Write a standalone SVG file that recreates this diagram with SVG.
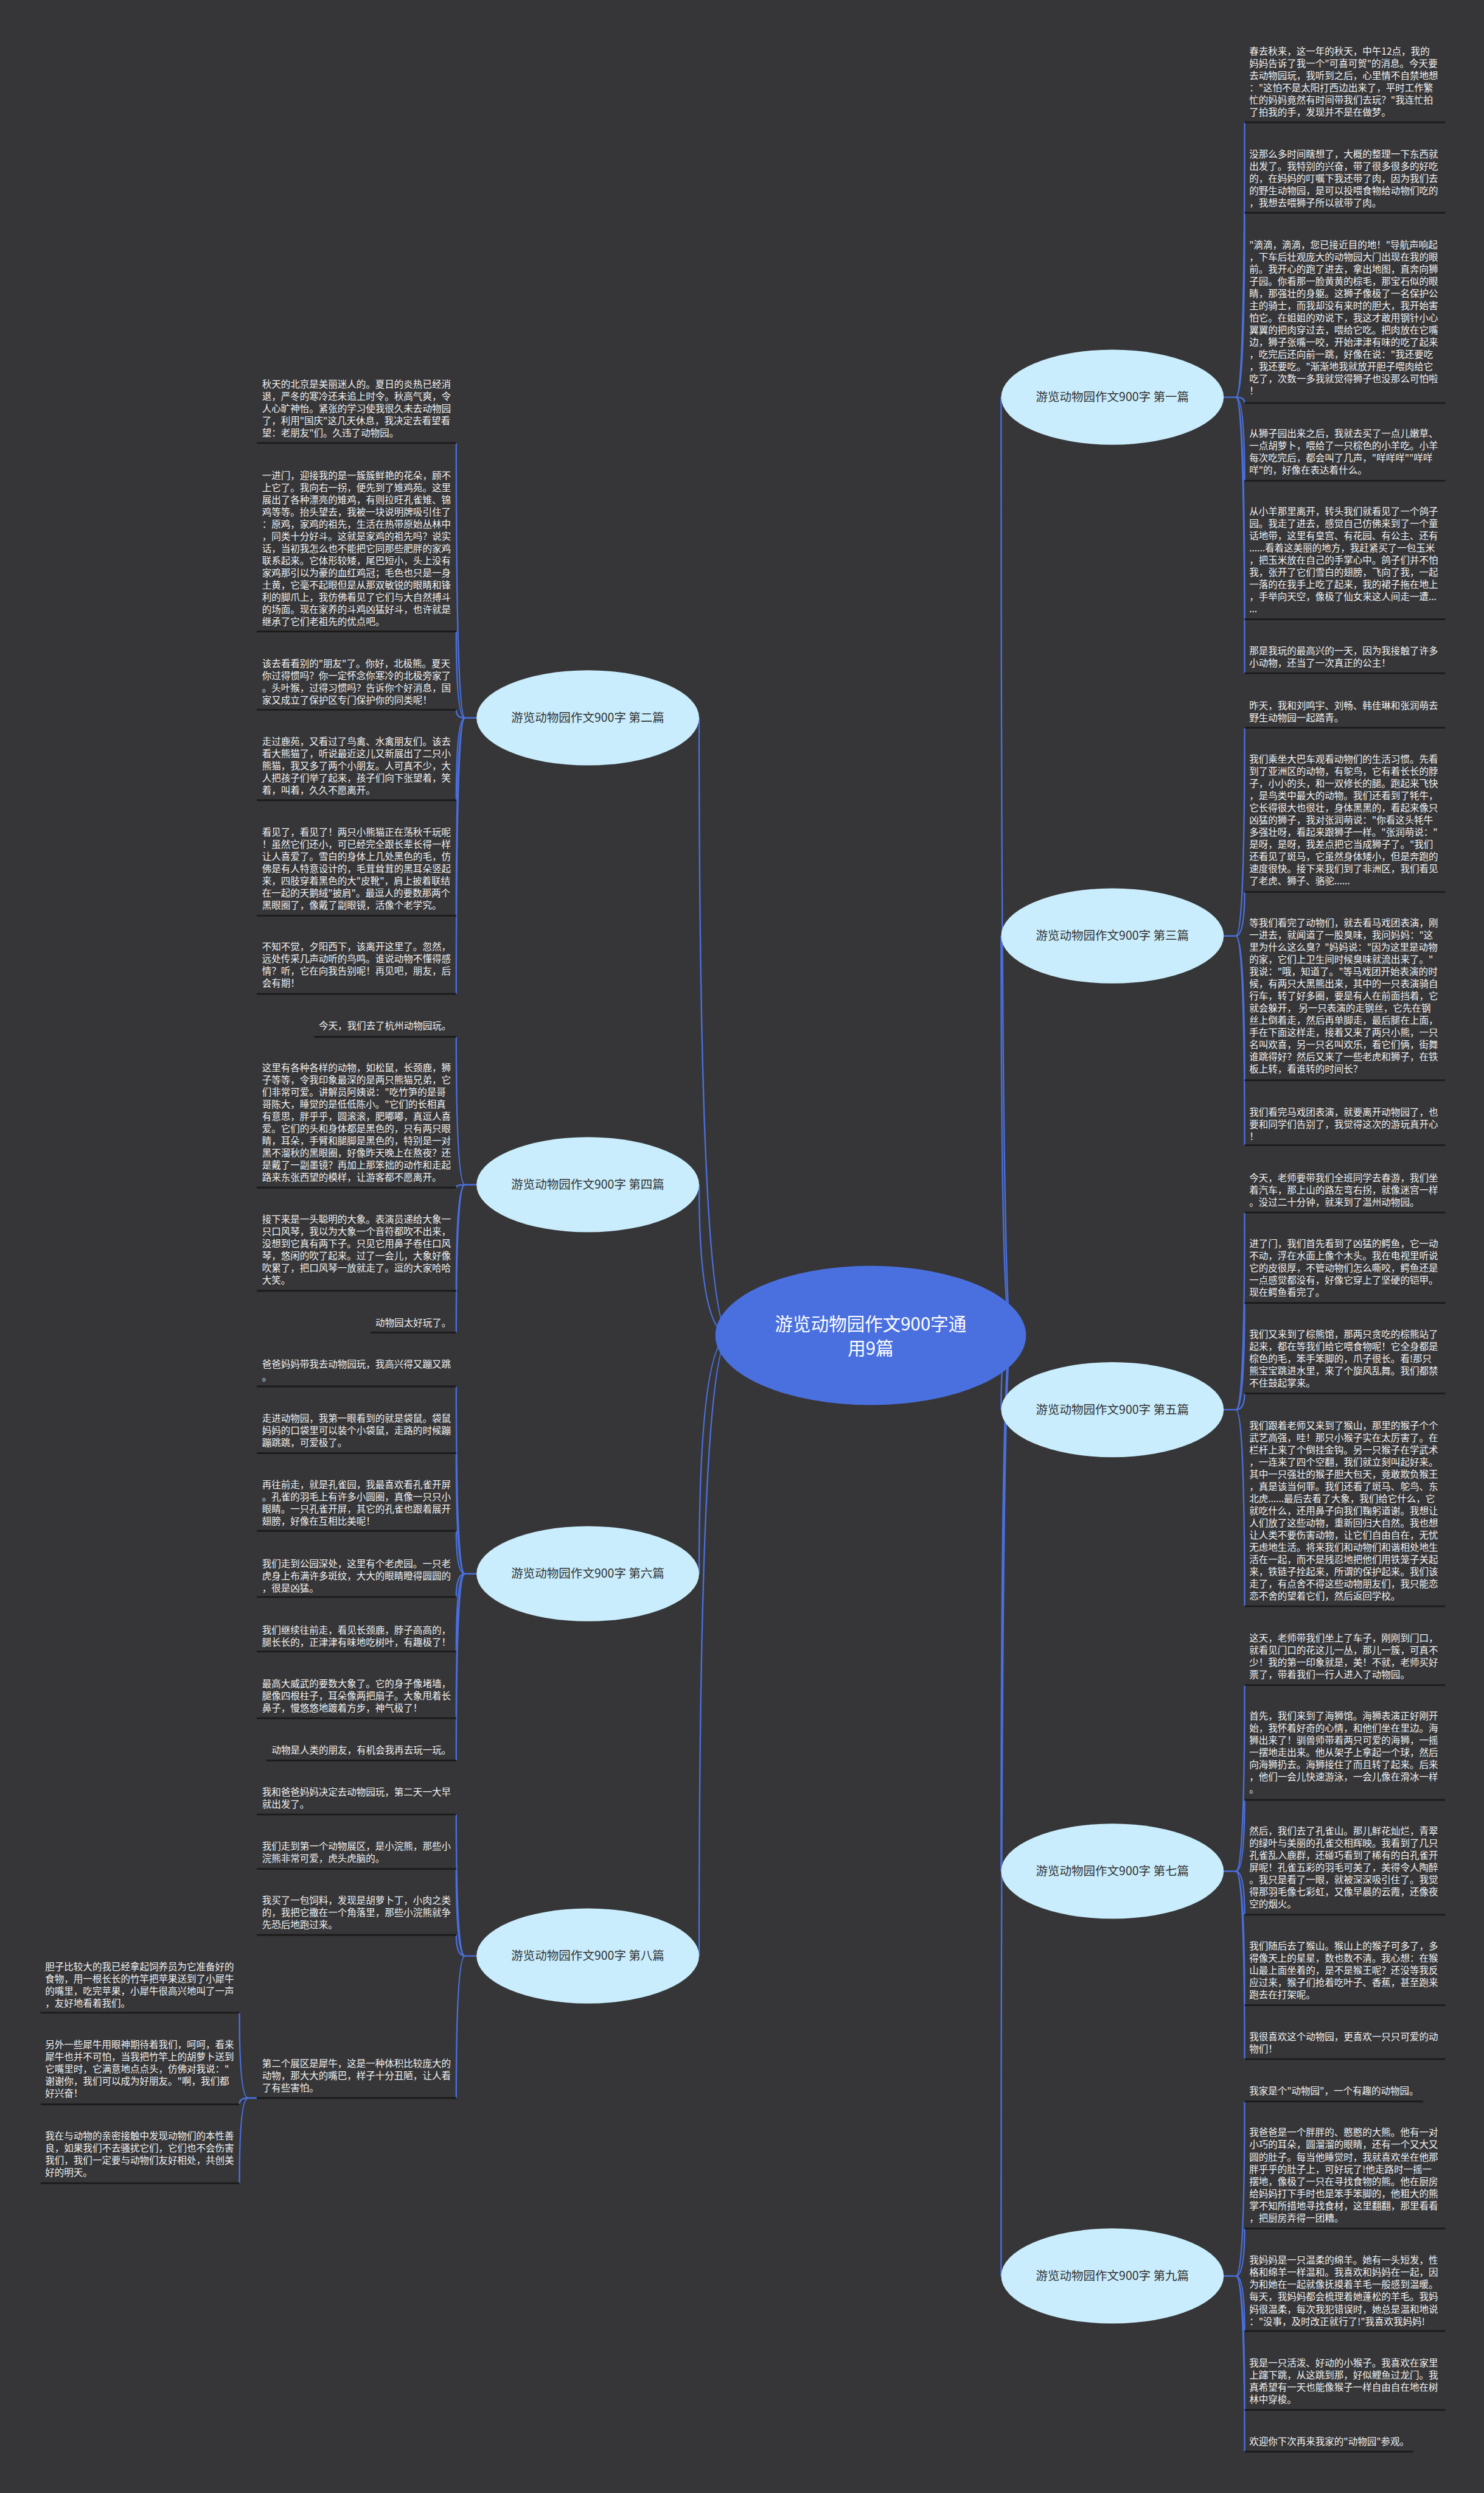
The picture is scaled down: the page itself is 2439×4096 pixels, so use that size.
<svg xmlns="http://www.w3.org/2000/svg" width="2439" height="4096" viewBox="0 0 2439 4096">
<style>
.t{font-family:'Noto Sans CJK SC','Noto Sans',sans-serif;font-size:16.3px;fill:#f2f2f2}
.ul{stroke:#1b1b1b;stroke-width:3}
.cn{fill:none;stroke:#4a6fdc;stroke-width:2.5}
.bn{fill:#c9edfc}
.bt{font-family:'Noto Sans CJK SC','Noto Sans',sans-serif;font-size:20.5px;fill:#333;text-anchor:middle}
.ct{font-family:'Noto Sans CJK SC','Noto Sans',sans-serif;font-size:31px;fill:#fff;text-anchor:middle}
</style>
<rect width="2439" height="4096" fill="#363638"/>
<g transform="scale(0.952734)">
<g id="connectors" class="cn">
<path d="M1745 2303Q1727 2303 1727 685M1745 2303Q1727 2303 1727 1614M1745 2303Q1727 2303 1727 2431M1745 2303Q1727 2303 1727 3227M1745 2303Q1727 2303 1727 3925"/>
<path d="M1260 2303Q1206 2303 1206 1238M1260 2303Q1206 2303 1206 2043M1260 2303Q1206 2303 1206 2714M1260 2303Q1206 2303 1206 3373"/>
<path d="M2111 685H2132Q2147 685 2147 211M2132 685Q2147 685 2147 367M2132 685Q2147 685 2147 695M2132 685Q2147 685 2147 829M2132 685Q2147 685 2147 1068M2132 685Q2147 685 2147 1161"/>
<path d="M2111 1614H2132Q2147 1614 2147 1255M2132 1614Q2147 1614 2147 1538M2132 1614Q2147 1614 2147 1863M2132 1614Q2147 1614 2147 1975"/>
<path d="M2111 2431H2132Q2147 2431 2147 2091M2132 2431Q2147 2431 2147 2247M2132 2431Q2147 2431 2147 2403M2132 2431Q2147 2431 2147 2770"/>
<path d="M2111 3227H2132Q2147 3227 2147 2906M2132 3227Q2147 3227 2147 3104M2132 3227Q2147 3227 2147 3302M2132 3227Q2147 3227 2147 3458M2132 3227Q2147 3227 2147 3551"/>
<path d="M2111 3925H2132Q2147 3925 2147 3624M2132 3925Q2147 3925 2147 3843M2132 3925Q2147 3925 2147 4020M2132 3925Q2147 3925 2147 4156M2132 3925Q2147 3925 2147 4228"/>
<path d="M822 1238H802Q787 1238 787 764M802 1238Q787 1238 787 1089M802 1238Q787 1238 787 1224M802 1238Q787 1238 787 1380M802 1238Q787 1238 787 1579M802 1238Q787 1238 787 1714"/>
<path d="M822 2043H802Q787 2043 787 1788M802 2043Q787 2043 787 2048M802 2043Q787 2043 787 2226M802 2043Q787 2043 787 2298"/>
<path d="M822 2714H802Q787 2714 787 2391M802 2714Q787 2714 787 2506M802 2714Q787 2714 787 2640M802 2714Q787 2714 787 2754M802 2714Q787 2714 787 2848M802 2714Q787 2714 787 2963M802 2714Q787 2714 787 3036"/>
<path d="M822 3373H802Q787 3373 787 3129M802 3373Q787 3373 787 3223M802 3373Q787 3373 787 3337M802 3373Q787 3373 787 3618"/>
<path d="M443 3618H428Q413 3618 413 3471M428 3618Q413 3618 413 3629M428 3618Q413 3618 413 3765"/>
</g>
<g id="center"><ellipse cx="1502" cy="2303" rx="268" ry="120" fill="#4a70e0"/><text class="ct" x="1502" y="2294">游览动物园作文900字通</text><text class="ct" x="1502" y="2336">用9篇</text></g>
<g id="n1"><ellipse class="bn" cx="1919" cy="685" rx="192" ry="82"/><text class="bt" x="1919" y="692">游览动物园作文900字 第一篇</text></g>
<g id="n3"><ellipse class="bn" cx="1919" cy="1614" rx="192" ry="82"/><text class="bt" x="1919" y="1621">游览动物园作文900字 第三篇</text></g>
<g id="n5"><ellipse class="bn" cx="1919" cy="2431" rx="192" ry="82"/><text class="bt" x="1919" y="2438">游览动物园作文900字 第五篇</text></g>
<g id="n7"><ellipse class="bn" cx="1919" cy="3227" rx="192" ry="82"/><text class="bt" x="1919" y="3234">游览动物园作文900字 第七篇</text></g>
<g id="n9"><ellipse class="bn" cx="1919" cy="3925" rx="192" ry="82"/><text class="bt" x="1919" y="3932">游览动物园作文900字 第九篇</text></g>
<g id="n2"><ellipse class="bn" cx="1014" cy="1238" rx="192" ry="82"/><text class="bt" x="1014" y="1245">游览动物园作文900字 第二篇</text></g>
<g id="n4"><ellipse class="bn" cx="1014" cy="2043" rx="192" ry="82"/><text class="bt" x="1014" y="2050">游览动物园作文900字 第四篇</text></g>
<g id="n6"><ellipse class="bn" cx="1014" cy="2714" rx="192" ry="82"/><text class="bt" x="1014" y="2721">游览动物园作文900字 第六篇</text></g>
<g id="n8"><ellipse class="bn" cx="1014" cy="3373" rx="192" ry="82"/><text class="bt" x="1014" y="3380">游览动物园作文900字 第八篇</text></g>

<g id="r1"><text class="t" x="2155" y="94.6"><tspan x="2155">春去秋来，这一年的秋天，中午12点，我的</tspan><tspan x="2155" dy="21">妈妈告诉了我一个"可喜可贺"的消息。今天要</tspan><tspan x="2155" dy="21">去动物园玩，我听到之后，心里情不自禁地想</tspan><tspan x="2155" dy="21">："这怕不是太阳打西边出来了，平时工作繁</tspan><tspan x="2155" dy="21">忙的妈妈竟然有时间带我们去玩？"我连忙拍</tspan><tspan x="2155" dy="21">了拍我的手，发现并不是在做梦。</tspan></text><line class="ul" x1="2147" y1="211" x2="2493" y2="211"/></g>
<g id="r2"><text class="t" x="2155" y="272.1"><tspan x="2155">没那么多时间瞎想了，大概的整理一下东西就</tspan><tspan x="2155" dy="21">出发了。我特别的兴奋，带了很多很多的好吃</tspan><tspan x="2155" dy="21">的，在妈妈的叮嘱下我还带了肉，因为我们去</tspan><tspan x="2155" dy="21">的野生动物园，是可以投喂食物给动物们吃的</tspan><tspan x="2155" dy="21">，我想去喂狮子所以就带了肉。</tspan></text><line class="ul" x1="2147" y1="367" x2="2493" y2="367"/></g>
<g id="r3"><text class="t" x="2155" y="428.4"><tspan x="2155">"滴滴，滴滴，您已接近目的地！"导航声响起</tspan><tspan x="2155" dy="21">，下车后壮观庞大的动物园大门出现在我的眼</tspan><tspan x="2155" dy="21">前。我开心的跑了进去，拿出地图，直奔向狮</tspan><tspan x="2155" dy="21">子园。你看那一脸黄黄的棕毛，那宝石似的眼</tspan><tspan x="2155" dy="21">睛，那强壮的身躯。这狮子像极了一名保护公</tspan><tspan x="2155" dy="21">主的骑士，而我却没有来时的胆大，我开始害</tspan><tspan x="2155" dy="21">怕它。在姐姐的劝说下，我这才敢用钢针小心</tspan><tspan x="2155" dy="21">翼翼的把肉穿过去，喂给它吃。把肉放在它嘴</tspan><tspan x="2155" dy="21">边，狮子张嘴一咬，开始津津有味的吃了起来</tspan><tspan x="2155" dy="21">，吃完后还向前一跳，好像在说："我还要吃</tspan><tspan x="2155" dy="21">，我还要吃。"渐渐地我就放开胆子喂肉给它</tspan><tspan x="2155" dy="21">吃了，次数一多我就觉得狮子也没那么可怕啦</tspan><tspan x="2155" dy="21">！</tspan></text><line class="ul" x1="2147" y1="695" x2="2493" y2="695"/></g>
<g id="r4"><text class="t" x="2155" y="753.1"><tspan x="2155">从狮子园出来之后，我就去买了一点儿嫩草、</tspan><tspan x="2155" dy="21">一点胡萝卜，喂给了一只棕色的小羊吃。小羊</tspan><tspan x="2155" dy="21">每次吃完后，都会叫了几声，"咩咩咩""咩咩</tspan><tspan x="2155" dy="21">咩"的，好像在表达着什么。</tspan></text><line class="ul" x1="2147" y1="829" x2="2493" y2="829"/></g>
<g id="r5"><text class="t" x="2155" y="887.8"><tspan x="2155">从小羊那里离开，转头我们就看见了一个鸽子</tspan><tspan x="2155" dy="21">园。我走了进去，感觉自己仿佛来到了一个童</tspan><tspan x="2155" dy="21">话地带，这里有皇宫、有花园、有公主、还有</tspan><tspan x="2155" dy="21">......看着这美丽的地方，我赶紧买了一包玉米</tspan><tspan x="2155" dy="21">，把玉米放在自己的手掌心中。鸽子们并不怕</tspan><tspan x="2155" dy="21">我，张开了它们雪白的翅膀，飞向了我，一起</tspan><tspan x="2155" dy="21">一落的在我手上吃了起来，我的裙子拖在地上</tspan><tspan x="2155" dy="21">，手举向天空，像极了仙女来这人间走一遭...</tspan><tspan x="2155" dy="21">...</tspan></text><line class="ul" x1="2147" y1="1068" x2="2493" y2="1068"/></g>
<g id="r6"><text class="t" x="2155" y="1128.7"><tspan x="2155">那是我玩的最高兴的一天，因为我接触了许多</tspan><tspan x="2155" dy="21">小动物，还当了一次真正的公主！</tspan></text><line class="ul" x1="2147" y1="1161" x2="2493" y2="1161"/></g>
<g id="r7"><text class="t" x="2155" y="1222.5"><tspan x="2155">昨天，我和刘鸣宇、刘畅、韩佳琳和张润萌去</tspan><tspan x="2155" dy="21">野生动物园一起踏青。</tspan></text><line class="ul" x1="2147" y1="1255" x2="2493" y2="1255"/></g>
<g id="r8"><text class="t" x="2155" y="1315.6"><tspan x="2155">我们乘坐大巴车观看动物们的生活习惯。先看</tspan><tspan x="2155" dy="21">到了亚洲区的动物，有鸵鸟，它有着长长的脖</tspan><tspan x="2155" dy="21">子，小小的头，和一双修长的腿。跑起来飞快</tspan><tspan x="2155" dy="21">，是鸟类中最大的动物。我们还看到了牦牛，</tspan><tspan x="2155" dy="21">它长得很大也很壮，身体黑黑的，看起来像只</tspan><tspan x="2155" dy="21">凶猛的狮子，我对张润萌说："你看这头牦牛</tspan><tspan x="2155" dy="21">多强壮呀，看起来跟狮子一样。"张润萌说："</tspan><tspan x="2155" dy="21">是呀，是呀，我差点把它当成狮子了。"我们</tspan><tspan x="2155" dy="21">还看见了斑马，它虽然身体矮小，但是奔跑的</tspan><tspan x="2155" dy="21">速度很快。接下来我们到了非洲区，我们看见</tspan><tspan x="2155" dy="21">了老虎、狮子、骆驼......</tspan></text><line class="ul" x1="2147" y1="1538" x2="2493" y2="1538"/></g>
<g id="r9"><text class="t" x="2155" y="1597.4"><tspan x="2155">等我们看完了动物们，就去看马戏团表演，刚</tspan><tspan x="2155" dy="21">一进去，就闻道了一股臭味，我问妈妈："这</tspan><tspan x="2155" dy="21">里为什么这么臭？"妈妈说："因为这里是动物</tspan><tspan x="2155" dy="21">的家，它们上卫生间时候臭味就流出来了。"</tspan><tspan x="2155" dy="21">我说："哦，知道了。"等马戏团开始表演的时</tspan><tspan x="2155" dy="21">候，有两只大黑熊出来，其中的一只表演骑自</tspan><tspan x="2155" dy="21">行车，转了好多圈，要是有人在前面挡着，它</tspan><tspan x="2155" dy="21">就会躲开， 另一只表演的走钢丝，它先在钢</tspan><tspan x="2155" dy="21">丝上倒着走，然后再单脚走，最后腿在上面，</tspan><tspan x="2155" dy="21">手在下面这样走，接着又来了两只小熊，一只</tspan><tspan x="2155" dy="21">名叫欢喜，另一只名叫欢乐，看它们俩，街舞</tspan><tspan x="2155" dy="21">谁跳得好？然后又来了一些老虎和狮子，在铁</tspan><tspan x="2155" dy="21">板上转，看谁转的时间长？</tspan></text><line class="ul" x1="2147" y1="1863" x2="2493" y2="1863"/></g>
<g id="r10"><text class="t" x="2155" y="1924"><tspan x="2155">我们看完马戏团表演，就要离开动物园了，也</tspan><tspan x="2155" dy="21">要和同学们告别了，我觉得这次的游玩真开心</tspan><tspan x="2155" dy="21">！</tspan></text><line class="ul" x1="2147" y1="1975" x2="2493" y2="1975"/></g>
<g id="r11"><text class="t" x="2155" y="2036.8"><tspan x="2155">今天，老师要带我们全班同学去春游，我们坐</tspan><tspan x="2155" dy="21">着汽车，那上山的路左弯右拐，就像迷宫一样</tspan><tspan x="2155" dy="21">。没过二十分钟，就来到了温州动物园。</tspan></text><line class="ul" x1="2147" y1="2091" x2="2493" y2="2091"/></g>
<g id="r12"><text class="t" x="2155" y="2151.1"><tspan x="2155">进了门，我们首先看到了凶猛的鳄鱼，它一动</tspan><tspan x="2155" dy="21">不动，浮在水面上像个木头。我在电视里听说</tspan><tspan x="2155" dy="21">它的皮很厚，不管动物们怎么嘶咬，鳄鱼还是</tspan><tspan x="2155" dy="21">一点感觉都没有，好像它穿上了坚硬的铠甲。</tspan><tspan x="2155" dy="21">现在鳄鱼看完了。</tspan></text><line class="ul" x1="2147" y1="2247" x2="2493" y2="2247"/></g>
<g id="r13"><text class="t" x="2155" y="2307"><tspan x="2155">我们又来到了棕熊馆，那两只贪吃的棕熊站了</tspan><tspan x="2155" dy="21">起来，都在等我们给它喂食物呢！它全身都是</tspan><tspan x="2155" dy="21">棕色的毛，笨手笨脚的，爪子很长。看!那只</tspan><tspan x="2155" dy="21">熊宝宝跳进水里，来了个旋风乱舞。我们都禁</tspan><tspan x="2155" dy="21">不住鼓起掌来。</tspan></text><line class="ul" x1="2147" y1="2403" x2="2493" y2="2403"/></g>
<g id="r14"><text class="t" x="2155" y="2464.2"><tspan x="2155">我们跟着老师又来到了猴山，那里的猴子个个</tspan><tspan x="2155" dy="21">武艺高强，哇！那只小猴子实在太厉害了。在</tspan><tspan x="2155" dy="21">栏杆上来了个倒挂金钩。另一只猴子在学武术</tspan><tspan x="2155" dy="21">，一连来了四个空翻，我们就立刻叫起好来。</tspan><tspan x="2155" dy="21">其中一只强壮的猴子胆大包天，竟敢欺负猴王</tspan><tspan x="2155" dy="21">，真是该当何罪。我们还看了斑马、鸵鸟、东</tspan><tspan x="2155" dy="21">北虎......最后去看了大象，我们给它什么，它</tspan><tspan x="2155" dy="21">就吃什么，还用鼻子向我们鞠躬道谢。我想让</tspan><tspan x="2155" dy="21">人们放了这些动物，重新回归大自然。我也想</tspan><tspan x="2155" dy="21">让人类不要伤害动物，让它们自由自在，无忧</tspan><tspan x="2155" dy="21">无虑地生活。将来我们和动物们和谐相处地生</tspan><tspan x="2155" dy="21">活在一起，而不是残忍地把他们用铁笼子关起</tspan><tspan x="2155" dy="21">来，铁链子拴起来，所谓的保护起来。我们该</tspan><tspan x="2155" dy="21">走了，有点舍不得这些动物朋友们，我只能恋</tspan><tspan x="2155" dy="21">恋不舍的望着它们，然后返回学校。</tspan></text><line class="ul" x1="2147" y1="2770" x2="2493" y2="2770"/></g>
<g id="r15"><text class="t" x="2155" y="2830.9"><tspan x="2155">这天，老师带我们坐上了车子，刚刚到门口，</tspan><tspan x="2155" dy="21">就看见门口的花这儿一丛，那儿一簇，可真不</tspan><tspan x="2155" dy="21">少！我的第一印象就是，美！不就，老师买好</tspan><tspan x="2155" dy="21">票了，带着我们一行人进入了动物园。</tspan></text><line class="ul" x1="2147" y1="2906" x2="2493" y2="2906"/></g>
<g id="r16"><text class="t" x="2155" y="2965.6"><tspan x="2155">首先，我们来到了海狮馆。海狮表演正好刚开</tspan><tspan x="2155" dy="21">始，我怀着好奇的心情，和他们坐在里边。海</tspan><tspan x="2155" dy="21">狮出来了！驯兽师带着两只可爱的海狮，一摇</tspan><tspan x="2155" dy="21">一摆地走出来。他从架子上拿起一个球，然后</tspan><tspan x="2155" dy="21">向海狮扔去。海狮接住了而且转了起来。后来</tspan><tspan x="2155" dy="21">，他们一会儿快速游泳，一会儿像在滑冰一样</tspan><tspan x="2155" dy="21">。</tspan></text><line class="ul" x1="2147" y1="3104" x2="2493" y2="3104"/></g>
<g id="r17"><text class="t" x="2155" y="3163.6"><tspan x="2155">然后，我们去了孔雀山。那儿鲜花灿烂，青翠</tspan><tspan x="2155" dy="21">的绿叶与美丽的孔雀交相辉映。我看到了几只</tspan><tspan x="2155" dy="21">孔雀乱入鹿群，还碰巧看到了稀有的白孔雀开</tspan><tspan x="2155" dy="21">屏呢！孔雀五彩的羽毛可美了，美得令人陶醉</tspan><tspan x="2155" dy="21">。我只是看了一眼，就被深深吸引住了。我觉</tspan><tspan x="2155" dy="21">得那羽毛像七彩虹，又像早晨的云霞，还像夜</tspan><tspan x="2155" dy="21">空的烟火。</tspan></text><line class="ul" x1="2147" y1="3302" x2="2493" y2="3302"/></g>
<g id="r18"><text class="t" x="2155" y="3362.1"><tspan x="2155">我们随后去了猴山。猴山上的猴子可多了，多</tspan><tspan x="2155" dy="21">得像天上的星星，数也数不清。我心想：在猴</tspan><tspan x="2155" dy="21">山最上面坐着的，是不是猴王呢？还没等我反</tspan><tspan x="2155" dy="21">应过来，猴子们抢着吃叶子、香蕉，甚至跑来</tspan><tspan x="2155" dy="21">跑去在打架呢。</tspan></text><line class="ul" x1="2147" y1="3458" x2="2493" y2="3458"/></g>
<g id="r19"><text class="t" x="2155" y="3518"><tspan x="2155">我很喜欢这个动物园，更喜欢一只只可爱的动</tspan><tspan x="2155" dy="21">物们！</tspan></text><line class="ul" x1="2147" y1="3551" x2="2493" y2="3551"/></g>
<g id="r20"><text class="t" x="2155" y="3612">我家是个"动物园"，一个有趣的动物园。</text><line class="ul" x1="2147" y1="3624" x2="2455" y2="3624"/></g>
<g id="r21"><text class="t" x="2155" y="3683.6"><tspan x="2155">我爸爸是一个胖胖的、憨憨的大熊。他有一对</tspan><tspan x="2155" dy="21">小巧的耳朵，圆溜溜的眼睛，还有一个又大又</tspan><tspan x="2155" dy="21">圆的肚子。每当他睡觉时，我就喜欢坐在他那</tspan><tspan x="2155" dy="21">胖乎乎的肚子上，可好玩了!他走路时一摇一</tspan><tspan x="2155" dy="21">摆地，像极了一只在寻找食物的熊。他在厨房</tspan><tspan x="2155" dy="21">给妈妈打下手时也是笨手笨脚的，他粗大的熊</tspan><tspan x="2155" dy="21">掌不知所措地寻找食材，这里翻翻，那里看看</tspan><tspan x="2155" dy="21">，把厨房弄得一团糟。</tspan></text><line class="ul" x1="2147" y1="3843" x2="2493" y2="3843"/></g>
<g id="r22"><text class="t" x="2155" y="3904"><tspan x="2155">我妈妈是一只温柔的绵羊。她有一头短发，性</tspan><tspan x="2155" dy="21">格和绵羊一样温和。我喜欢和妈妈在一起，因</tspan><tspan x="2155" dy="21">为和她在一起就像抚摸着羊毛一般感到温暖。</tspan><tspan x="2155" dy="21">每天，我妈妈都会梳理着她蓬松的羊毛。我妈</tspan><tspan x="2155" dy="21">妈很温柔，每次我犯错误时，她总是温和地说</tspan><tspan x="2155" dy="21">："没事，及时改正就行了!"我喜欢我妈妈!</tspan></text><line class="ul" x1="2147" y1="4020" x2="2493" y2="4020"/></g>
<g id="r23"><text class="t" x="2155" y="4080.7"><tspan x="2155">我是一只活泼、好动的小猴子。我喜欢在家里</tspan><tspan x="2155" dy="21">上蹿下跳，从这跳到那，好似鲤鱼过龙门。我</tspan><tspan x="2155" dy="21">真希望有一天也能像猴子一样自由自在地在树</tspan><tspan x="2155" dy="21">林中穿梭。</tspan></text><line class="ul" x1="2147" y1="4156" x2="2493" y2="4156"/></g>
<g id="r24"><text class="t" x="2155" y="4216.3">欢迎你下次再来我家的"动物园"参观。</text><line class="ul" x1="2147" y1="4228" x2="2438" y2="4228"/></g>

<g id="l1"><text class="t" x="452" y="668.4"><tspan x="452">秋天的北京是美丽迷人的。夏日的炎热已经消</tspan><tspan x="452" dy="21">退，严冬的寒冷还未追上时令。秋高气爽，令</tspan><tspan x="452" dy="21">人心旷神怡。紧张的学习使我很久未去动物园</tspan><tspan x="452" dy="21">了，利用"国庆"这几天休息，我决定去看望看</tspan><tspan x="452" dy="21">望：老朋友"们。久违了动物园。</tspan></text><line class="ul" x1="443" y1="764" x2="787" y2="764"/></g>
<g id="l2"><text class="t" x="452" y="825.6"><tspan x="452">一进门，迎接我的是一簇簇鲜艳的花朵，顾不</tspan><tspan x="452" dy="21">上它了。我向右一拐，便先到了雉鸡苑。这里</tspan><tspan x="452" dy="21">展出了各种漂亮的雉鸡，有则拉旺孔雀雉、锦</tspan><tspan x="452" dy="21">鸡等等。抬头望去，我被一块说明牌吸引住了</tspan><tspan x="452" dy="21">：原鸡，家鸡的祖先，生活在热带原始丛林中</tspan><tspan x="452" dy="21">，同类十分好斗。这就是家鸡的祖先吗？说实</tspan><tspan x="452" dy="21">话，当初我怎么也不能把它同那些肥胖的家鸡</tspan><tspan x="452" dy="21">联系起来。它体形较矮，尾巴短小，头上没有</tspan><tspan x="452" dy="21">家鸡那引以为豪的血红鸡冠；毛色也只是一身</tspan><tspan x="452" dy="21">土黄，它毫不起眼但是从那双敏锐的眼睛和锋</tspan><tspan x="452" dy="21">利的脚爪上，我仿佛看见了它们与大自然搏斗</tspan><tspan x="452" dy="21">的场面。现在家养的斗鸡凶猛好斗，也许就是</tspan><tspan x="452" dy="21">继承了它们老祖先的优点吧。</tspan></text><line class="ul" x1="443" y1="1089" x2="787" y2="1089"/></g>
<g id="l3"><text class="t" x="452" y="1150.1"><tspan x="452">该去看看别的"朋友"了。你好，北极熊。夏天</tspan><tspan x="452" dy="21">你过得惯吗？你一定怀念你寒冷的北极旁家了</tspan><tspan x="452" dy="21">。头叶猴，过得习惯吗？告诉你个好消息，国</tspan><tspan x="452" dy="21">家又成立了保护区专门保护你的同类呢！</tspan></text><line class="ul" x1="443" y1="1224" x2="787" y2="1224"/></g>
<g id="l4"><text class="t" x="452" y="1285"><tspan x="452">走过鹿苑，又看过了鸟禽、水禽朋友们。该去</tspan><tspan x="452" dy="21">看大熊猫了，听说最近这儿又新展出了二只小</tspan><tspan x="452" dy="21">熊猫，我又多了两个小朋友。人可真不少，大</tspan><tspan x="452" dy="21">人把孩子们举了起来，孩子们向下张望着，笑</tspan><tspan x="452" dy="21">着，叫着，久久不愿离开。</tspan></text><line class="ul" x1="443" y1="1380" x2="787" y2="1380"/></g>
<g id="l5"><text class="t" x="452" y="1441.3"><tspan x="452">看见了，看见了！两只小熊猫正在荡秋千玩呢</tspan><tspan x="452" dy="21">！虽然它们还小，可已经完全跟长辈长得一样</tspan><tspan x="452" dy="21">让人喜爱了。雪白的身体上几处黑色的毛，仿</tspan><tspan x="452" dy="21">佛是有人特意设计的，毛茸耸茸的黑耳朵竖起</tspan><tspan x="452" dy="21">来，四肢穿着黑色的大"皮靴"，肩上披着联结</tspan><tspan x="452" dy="21">在一起的天鹅绒"披肩"。最逗人的要数那两个</tspan><tspan x="452" dy="21">黑眼圈了，像戴了副眼镜，活像个老学究。</tspan></text><line class="ul" x1="443" y1="1579" x2="787" y2="1579"/></g>
<g id="l6"><text class="t" x="452" y="1638.4"><tspan x="452">不知不觉，夕阳西下，该离开这里了。忽然，</tspan><tspan x="452" dy="21">远处传采几声动听的鸟鸣。谁说动物不懂得感</tspan><tspan x="452" dy="21">情？听，它在向我告别呢！再见吧，朋友，后</tspan><tspan x="452" dy="21">会有期！</tspan></text><line class="ul" x1="443" y1="1714" x2="787" y2="1714"/></g>
<g id="l7"><text class="t" x="778" y="1774.8" text-anchor="end">今天，我们去了杭州动物园玩。</text><line class="ul" x1="542" y1="1788" x2="787" y2="1788"/></g>
<g id="l8"><text class="t" x="452" y="1847.4"><tspan x="452">这里有各种各样的动物，如松鼠，长颈鹿，狮</tspan><tspan x="452" dy="21">子等等，令我印象最深的是两只熊猫兄弟，它</tspan><tspan x="452" dy="21">们非常可爱。讲解员阿姨说："吃竹笋的是哥</tspan><tspan x="452" dy="21">哥陈大，睡觉的是低低陈小。"它们的长相真</tspan><tspan x="452" dy="21">有意思，胖乎乎，圆滚滚，肥嘟嘟，真逗人喜</tspan><tspan x="452" dy="21">爱。它们的头和身体都是黑色的，只有两只眼</tspan><tspan x="452" dy="21">睛，耳朵，手臂和腿脚是黑色的，特别是一对</tspan><tspan x="452" dy="21">黑不溜秋的黑眼圈，好像昨天晚上在熬夜？还</tspan><tspan x="452" dy="21">是戴了一副墨镜？再加上那笨拙的动作和走起</tspan><tspan x="452" dy="21">路来东张西望的模样，让游客都不愿离开。</tspan></text><line class="ul" x1="443" y1="2048" x2="787" y2="2048"/></g>
<g id="l9"><text class="t" x="452" y="2108.9"><tspan x="452">接下来是一头聪明的大象。表演员递给大象一</tspan><tspan x="452" dy="21">只口风琴，我以为大象一个音符都吹不出来，</tspan><tspan x="452" dy="21">没想到它真有两下子。只见它用鼻子卷住口风</tspan><tspan x="452" dy="21">琴，悠闲的吹了起来。过了一会儿，大象好像</tspan><tspan x="452" dy="21">吹累了，把口风琴一放就走了。逗的大家哈哈</tspan><tspan x="452" dy="21">大笑。</tspan></text><line class="ul" x1="443" y1="2226" x2="787" y2="2226"/></g>
<g id="l10"><text class="t" x="778" y="2287.6" text-anchor="end">动物园太好玩了。</text><line class="ul" x1="639" y1="2298" x2="787" y2="2298"/></g>
<g id="l11"><text class="t" x="452" y="2359"><tspan x="452">爸爸妈妈带我去动物园玩，我高兴得又蹦又跳</tspan><tspan x="452" dy="21">。</tspan></text><line class="ul" x1="443" y1="2391" x2="787" y2="2391"/></g>
<g id="l12"><text class="t" x="452" y="2452.1"><tspan x="452">走进动物园，我第一眼看到的就是袋鼠。袋鼠</tspan><tspan x="452" dy="21">妈妈的口袋里可以装个小袋鼠，走路的时候蹦</tspan><tspan x="452" dy="21">蹦跳跳，可爱极了。</tspan></text><line class="ul" x1="443" y1="2506" x2="787" y2="2506"/></g>
<g id="l13"><text class="t" x="452" y="2566.6"><tspan x="452">再往前走，就是孔雀园，我最喜欢看孔雀开屏</tspan><tspan x="452" dy="21">。孔雀的羽毛上有许多小圆圈，真像一只只小</tspan><tspan x="452" dy="21">眼睛。一只孔雀开屏，其它的孔雀也跟着展开</tspan><tspan x="452" dy="21">翅膀，好像在互相比美呢！</tspan></text><line class="ul" x1="443" y1="2640" x2="787" y2="2640"/></g>
<g id="l14"><text class="t" x="452" y="2702.5"><tspan x="452">我们走到公园深处，这里有个老虎园。一只老</tspan><tspan x="452" dy="21">虎身上布满许多斑纹，大大的眼睛瞪得圆圆的</tspan><tspan x="452" dy="21">，很是凶猛。</tspan></text><line class="ul" x1="443" y1="2754" x2="787" y2="2754"/></g>
<g id="l15"><text class="t" x="452" y="2816.8"><tspan x="452">我们继续往前走，看见长颈鹿，脖子高高的，</tspan><tspan x="452" dy="21">腿长长的，正津津有味地吃树叶，有趣极了！</tspan></text><line class="ul" x1="443" y1="2848" x2="787" y2="2848"/></g>
<g id="l16"><text class="t" x="452" y="2909.5"><tspan x="452">最高大威武的要数大象了。它的身子像堵墙，</tspan><tspan x="452" dy="21">腿像四根柱子，耳朵像两把扇子。大象甩着长</tspan><tspan x="452" dy="21">鼻子，慢悠悠地踱着方步，神气极了！</tspan></text><line class="ul" x1="443" y1="2963" x2="787" y2="2963"/></g>
<g id="l17"><text class="t" x="778" y="3023.8" text-anchor="end">动物是人类的朋友，有机会我再去玩一玩。</text><line class="ul" x1="459" y1="3036" x2="787" y2="3036"/></g>
<g id="l18"><text class="t" x="452" y="3096"><tspan x="452">我和爸爸妈妈决定去动物园玩，第二天一大早</tspan><tspan x="452" dy="21">就出发了。</tspan></text><line class="ul" x1="443" y1="3129" x2="787" y2="3129"/></g>
<g id="l19"><text class="t" x="452" y="3190"><tspan x="452">我们走到第一个动物展区，是小浣熊，那些小</tspan><tspan x="452" dy="21">浣熊非常可爱，虎头虎脑的。</tspan></text><line class="ul" x1="443" y1="3223" x2="787" y2="3223"/></g>
<g id="l20"><text class="t" x="452" y="3283.5"><tspan x="452">我买了一包饲料，发现是胡萝卜丁，小肉之类</tspan><tspan x="452" dy="21">的，我把它撒在一个角落里，那些小浣熊就争</tspan><tspan x="452" dy="21">先恐后地跑过来。</tspan></text><line class="ul" x1="443" y1="3337" x2="787" y2="3337"/></g>
<g id="l21"><text class="t" x="452" y="3564.7"><tspan x="452">第二个展区是犀牛，这是一种体积比较庞大的</tspan><tspan x="452" dy="21">动物，那大大的嘴巴，样子十分丑陋，让人看</tspan><tspan x="452" dy="21">了有些害怕。</tspan></text><line class="ul" x1="443" y1="3618" x2="787" y2="3618"/></g>
<g id="f1"><text class="t" x="78" y="3397.4"><tspan x="78">胆子比较大的我已经拿起饲养员为它准备好的</tspan><tspan x="78" dy="21">食物，用一根长长的竹竿把苹果送到了小犀牛</tspan><tspan x="78" dy="21">的嘴里，吃完苹果，小犀牛很高兴地叫了一声</tspan><tspan x="78" dy="21">，友好地看着我们。</tspan></text><line class="ul" x1="70" y1="3471" x2="413" y2="3471"/></g>
<g id="f2"><text class="t" x="78" y="3532.2"><tspan x="78">另外一些犀牛用眼神期待着我们，呵呵，看来</tspan><tspan x="78" dy="21">犀牛也并不可怕，当我把竹竿上的胡萝卜送到</tspan><tspan x="78" dy="21">它嘴里时，它满意地点点头，仿佛对我说："</tspan><tspan x="78" dy="21">谢谢你，我们可以成为好朋友。"啊，我们都</tspan><tspan x="78" dy="21">好兴奋！</tspan></text><line class="ul" x1="70" y1="3629" x2="413" y2="3629"/></g>
<g id="f3"><text class="t" x="78" y="3689.7"><tspan x="78">我在与动物的亲密接触中发现动物们的本性善</tspan><tspan x="78" dy="21">良，如果我们不去骚扰它们，它们也不会伤害</tspan><tspan x="78" dy="21">我们，我们一定要与动物们友好相处，共创美</tspan><tspan x="78" dy="21">好的明天。</tspan></text><line class="ul" x1="70" y1="3765" x2="413" y2="3765"/></g>
</g>
</svg>
